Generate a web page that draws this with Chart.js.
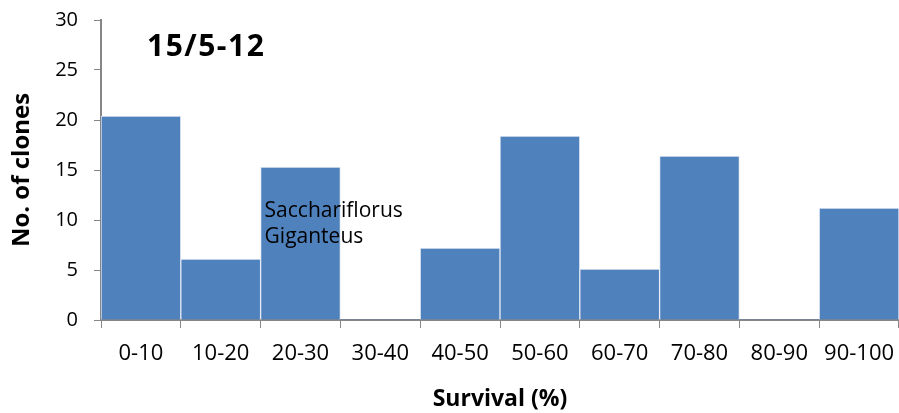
<!DOCTYPE html>
<html>
<head>
<meta charset="utf-8">
<script src="https://cdn.jsdelivr.net/npm/chart.js@4.4.0/dist/chart.umd.min.js"></script>
<style>
  html, body { margin: 0; padding: 0; background: #fff; }
  #wrap { width: 899px; height: 413px; }
</style>
</head>
<body>
<div id="wrap"><canvas id="myChart"></canvas></div>
<script>
const categories = ['0-10', '10-20', '20-30', '30-40', '40-50', '50-60', '60-70', '70-80', '80-90', '90-100'];
const clones = [20.4, 6.1, 15.3, 0, 7.2, 18.4, 5.1, 16.4, 0, 11.2];
const yTicks = [0, 5, 10, 15, 20, 25, 30];

const font = "'Open Sans', sans-serif";
const axisGrey = '#868686';

// title and the two-line note inside the chart
const textPlugin = {
    id: 'texts',
    afterDraw(chart) {
        const c = chart.ctx;
        const x = chart.scales.x;
        const y = chart.scales.y;
        c.save();
        c.fillStyle = '#000';
        c.font = 'bold 30px ' + font;
        c.letterSpacing = '1.5px';
        c.textBaseline = 'alphabetic';
        c.textAlign = 'left';
        c.fillText('15/5-12', 147, 56);
        c.letterSpacing = '0px';

        const left = x.getPixelForValue(2) - (x.getPixelForValue(1) - x.getPixelForValue(0)) / 2;
        c.font = '21px ' + font;
        c.fillText('Sacchariflorus', left + 4, y.getPixelForValue(10.3));
        c.fillText('Giganteus', left + 4, y.getPixelForValue(7.7));
        c.restore();
    }
};

const ctx = document.getElementById('myChart');

new Chart(ctx, {
    type: 'bar',
    data: {
        labels: categories,
        datasets: [{
            data: clones,
            backgroundColor: '#4F81BD',
            borderColor: '#e3eaf4',
            borderWidth: (c) => c.raw === 0 ? 0 : {top: 1, left: 1, right: 1, bottom: 0},
            barPercentage: 1,
            categoryPercentage: 1
        }]
    },
    options: {
        responsive: true,
        maintainAspectRatio: false,
        animation: false,
        layout: {padding: {top: 20, right: -2, left: 0, bottom: 0}},
        plugins: {legend: {display: false}, tooltip: {enabled: false}},
        scales: {
            x: {
                afterFit(scale) {
                    scale.height = 93;
                    scale.paddingLeft = 0;
                    scale.paddingRight = 0;
                },
                grid: {
                    offset: true,
                    drawOnChartArea: false,
                    drawTicks: true,
                    tickLength: 8,
                    color: axisGrey
                },
                border: {color: axisGrey, width: 2},
                ticks: {
                    color: '#000',
                    font: {family: font, size: 22},
                    padding: 13,
                    maxRotation: 0,
                    autoSkip: false
                },
                title: {
                    display: true,
                    text: 'Survival (%)',
                    color: '#000',
                    font: {family: font, size: 23, weight: 'bold'},
                    padding: {top: 4, bottom: 0}
                }
            },
            y: {
                min: 0,
                max: 30,
                afterFit(scale) {
                    scale.width = 101;
                    scale.paddingTop = 0;
                    scale.paddingBottom = 0;
                },
                afterBuildTicks(scale) { scale.ticks = yTicks.map(v => ({value: v})); },
                grid: {
                    drawOnChartArea: false,
                    drawTicks: true,
                    tickLength: 7,
                    color: axisGrey
                },
                border: {color: axisGrey, width: 2},
                ticks: {
                    color: '#000',
                    font: {family: font, size: 20},
                    padding: 16
                },
                title: {
                    display: true,
                    text: 'No. of clones',
                    color: '#000',
                    font: {family: font, size: 24, weight: 'bold'},
                    padding: {top: 8, bottom: 6}
                }
            }
        }
    },
    plugins: [textPlugin]
});
</script>
</body>
</html>
